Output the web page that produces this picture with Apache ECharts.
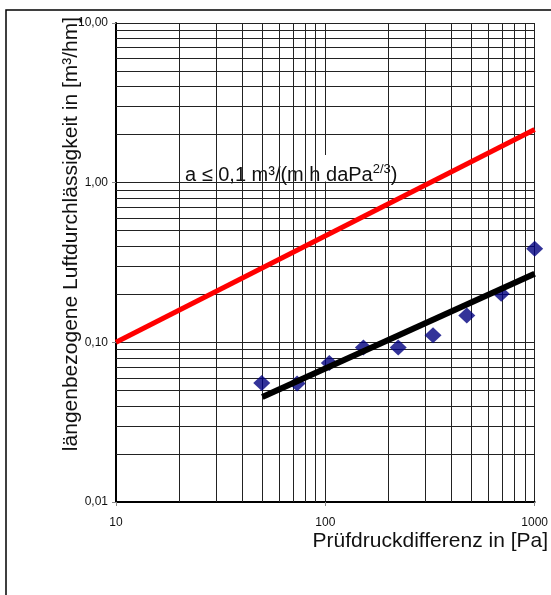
<!DOCTYPE html>
<html>
<head>
<meta charset="utf-8">
<script src="https://cdn.jsdelivr.net/npm/echarts@6/dist/echarts.min.js"></script>
<style>
html, body { margin: 0; padding: 0; background: #fff; }
#chart { width: 551px; height: 595px; }
</style>
</head>
<body>
<div id="chart"></div>
<script>
// Messpunkte (Prüfdruck in Pa, Luftdurchlässigkeit in m³/hm)
const pressure = [49.7, 73.3, 104.5, 152, 223, 327, 474, 692, 1000];
const leakage = [0.0557, 0.0552, 0.0743, 0.0927, 0.0927, 0.1106, 0.1475, 0.2015, 0.385];

// Grenzlinie a = 0,1 und Ausgleichsgerade, jeweils Anfangs- und Endpunkt
const limitLine = [[10, 0.1], [1000, 2.15]];
const fitLine = [[50, 0.0455], [1000, 0.269]];

// Zwischenlinien des log-Gitters
const xMinorGrid = [20, 30, 40, 50, 60, 70, 80, 90, 200, 300, 400, 500, 600, 700, 800, 900];
const yMinorGrid = [0.02, 0.03, 0.04, 0.05, 0.06, 0.07, 0.08, 0.09,
    0.2, 0.3, 0.4, 0.5, 0.6, 0.7, 0.8, 0.9, 2, 3, 4, 5, 6, 7, 8, 9];

const FONT = 'Liberation Sans, Arial, sans-serif';

let myChart = echarts.init(document.getElementById('chart'), null, { renderer: 'canvas' });

let grid_lines = [];
for (let v of xMinorGrid) grid_lines.push({ xAxis: v });
for (let v of yMinorGrid) grid_lines.push({ yAxis: v });

let option = {
    animation: false,
    backgroundColor: '#fff',
    grid: { left: 116, right: 15, top: 23, bottom: 93 },
    xAxis: {
        type: 'log',
        logBase: 10,
        min: 10,
        max: 1000,
        axisLine: { show: true, lineStyle: { color: '#000', width: 2 } },
        axisTick: { show: true, length: 4, lineStyle: { color: '#888' } },
        axisLabel: {
            color: '#111', fontSize: 12, fontFamily: FONT, margin: 15,
            formatter: function (v) { return String(Math.round(v)); }
        },
        splitLine: { show: true, lineStyle: { color: '#222', width: 1 } },
    },
    yAxis: {
        type: 'log',
        logBase: 10,
        min: 0.01,
        max: 10,
        axisLine: { show: true, lineStyle: { color: '#000', width: 2 } },
        axisTick: { show: true, length: 4, lineStyle: { color: '#888' } },
        axisLabel: {
            color: '#111', fontSize: 12, fontFamily: FONT, margin: 8,
            formatter: function (v) { return v.toFixed(2).replace('.', ','); }
        },
        splitLine: { show: true, lineStyle: { color: '#222', width: 1 } },
    },
    graphic: [
        {
            type: 'rect', z: 0, silent: true,
            shape: { x: 6, y: 10, width: 700, height: 700 },
            style: { fill: 'none', stroke: '#000', lineWidth: 1.5 }
        },
        {
            type: 'rect', z: 3, silent: true,
            shape: { x: 178, y: 155, width: 266, height: 26.5 },
            style: { fill: '#fff' }
        },
        {
            type: 'text', z: 4, silent: true,
            x: 185, y: 163,
            style: {
                text: '{n|a ≤ 0,1 m³/(m h daPa}{s|2/3}{n|)}',
                rich: {
                    n: { fontSize: 20, fontFamily: FONT, fill: '#111', lineHeight: 22, verticalAlign: 'bottom' },
                    s: { fontSize: 13, fontFamily: FONT, fill: '#111', lineHeight: 22, verticalAlign: 'top' }
                }
            }
        },
        {
            type: 'text', z: 4, silent: true,
            x: 71, y: 234, rotation: Math.PI / 2,
            style: {
                text: 'längenbezogene Luftdurchlässigkeit in [m³/hm]',
                fontSize: 21, fontFamily: FONT, fill: '#111',
                align: 'center', verticalAlign: 'middle'
            }
        },
        {
            type: 'text', z: 4, silent: true,
            x: 548, y: 541,
            style: {
                text: 'Prüfdruckdifferenz in [Pa]',
                fontSize: 21, fontFamily: FONT, fill: '#111',
                align: 'right', verticalAlign: 'middle'
            }
        }
    ],
    series: [
        {
            type: 'line',
            z: 1,
            data: [],
            silent: true,
            markLine: {
                silent: true,
                symbol: 'none',
                animation: false,
                label: { show: false },
                lineStyle: { type: 'solid', color: '#222', width: 1 },
                data: grid_lines,
            },
        },
        {
            type: 'scatter',
            z: 5,
            symbol: 'diamond',
            symbolSize: [17, 16],
            itemStyle: { color: '#000080' },
            data: pressure.map(function (p, i) { return [p, leakage[i]]; }),
        },
        {
            type: 'line',
            z: 6,
            data: fitLine,
            symbol: 'none',
            lineStyle: { color: '#000', width: 6 },
        },
        {
            type: 'line',
            z: 7,
            data: limitLine,
            symbol: 'none',
            lineStyle: { color: '#ff0000', width: 5 },
        },
    ],
};
myChart.setOption(option, true);
</script>
</body>
</html>
